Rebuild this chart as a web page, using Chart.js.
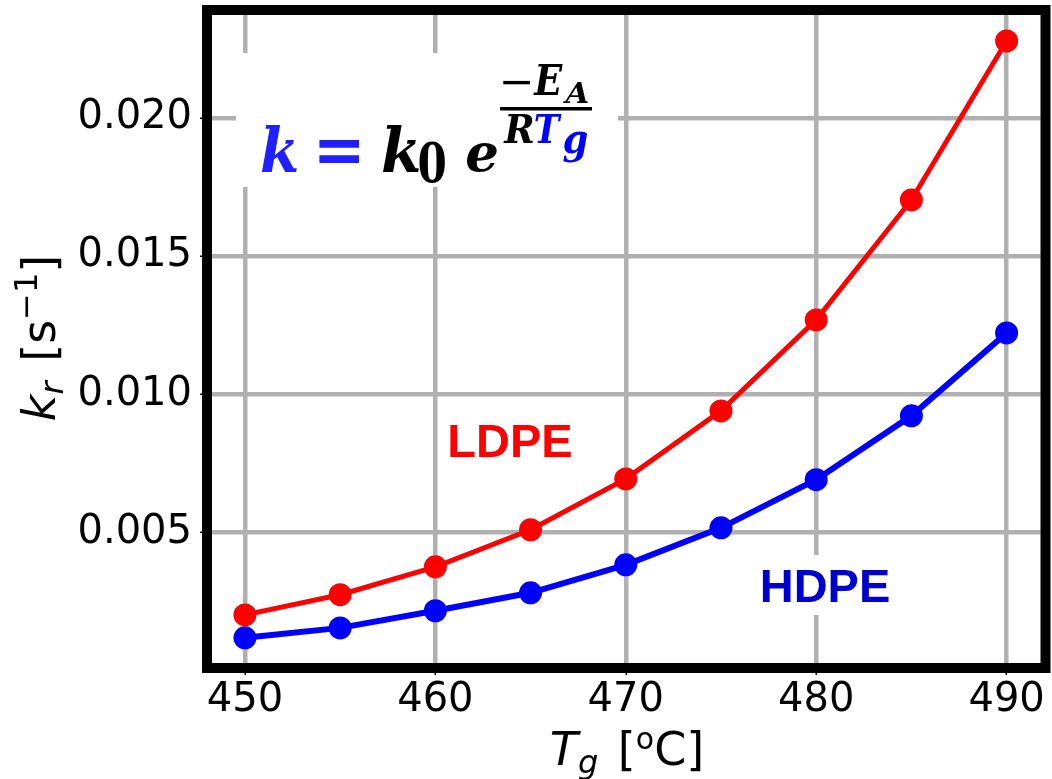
<!DOCTYPE html>
<html>
<head>
<meta charset="utf-8">
<script src="https://cdn.jsdelivr.net/npm/chart.js@4"></script>
<style>
  html, body { margin: 0; padding: 0; background: #fff; }
  #wrap { width: 1052px; height: 779px; }
</style>
</head>
<body>
<div id="wrap"><canvas id="kChart" width="1052" height="779"></canvas></div>
<script>
/* Data */
const temperatures = [450, 455, 460, 465, 470, 475, 480, 485, 490];
const ldpeRates = [0.00202, 0.00275, 0.00376, 0.00510, 0.00694, 0.00940, 0.01269, 0.01703, 0.02278];
const hdpeRates = [0.00119, 0.00155, 0.00217, 0.00282, 0.00383, 0.00517, 0.00691, 0.00922, 0.01222];
const xTicks = [450, 460, 470, 480, 490];
const yTicks = [0.005, 0.010, 0.015, 0.020];

/* colours */
const RED = "#ff0000";
const BLUE = "#0000ff";
const GRID = "#b0b0b0";

const SANS = "'DejaVu Sans', sans-serif";
const SERIF = "'DejaVu Serif', serif";

/* draw a list of text pieces one after another, centred on x */
function drawRuns(ctx, runs, x, y) {
  let total = 0;
  runs.forEach(r => { ctx.font = r.font; total += ctx.measureText(r.t).width + (r.gap || 0); });
  let cx = x - total / 2;
  ctx.textAlign = 'left';
  ctx.textBaseline = 'alphabetic';
  runs.forEach(r => {
    ctx.font = r.font;
    ctx.fillStyle = r.color || '#000';
    ctx.fillText(r.t, cx, y + (r.dy || 0));
    cx += ctx.measureText(r.t).width + (r.gap || 0);
  });
}

/* one glyph stretched so its ink fills the box x0..x1, top..bottom */
function glyph(ctx, t, font, color, x0, x1, top, bottom) {
  ctx.save();
  ctx.font = font;
  ctx.fillStyle = color;
  ctx.textAlign = 'left';
  ctx.textBaseline = 'alphabetic';
  const m = ctx.measureText(t);
  const w = m.actualBoundingBoxLeft + m.actualBoundingBoxRight;
  const h = m.actualBoundingBoxAscent + m.actualBoundingBoxDescent;
  const sx = (x1 - x0) / w, sy = (bottom - top) / h;
  ctx.translate(x0 + m.actualBoundingBoxLeft * sx, top + m.actualBoundingBoxAscent * sy);
  ctx.scale(sx, sy);
  ctx.fillText(t, 0, 0);
  ctx.restore();
}

/* labels, formula and axis titles */
const annotationPlugin = {
  id: 'annotations',
  beforeDatasetsDraw(chart) {
    const ctx = chart.ctx;
    ctx.save();
    // white boxes behind the texts (they cut the grid)
    ctx.fillStyle = '#fff';
    ctx.fillRect(236, 53, 382, 134);
    ctx.fillRect(750, 555, 150, 60);

    // formula  k = k0 e^(-E_A / R T_g)
    const bi = `italic bold 60px ${SERIF}`;
    const b = `bold 60px ${SERIF}`;
    const KB = '#2020ff';
    glyph(ctx, 'k', bi, KB, 262, 297, 125, 172);
    glyph(ctx, '=', b, KB, 319, 359, 140, 163);
    glyph(ctx, 'k', bi, '#000', 383, 419, 125, 172);
    glyph(ctx, '0', b, '#000', 419, 445, 141, 183);
    glyph(ctx, 'e', bi, '#000', 467, 497, 143, 172);
    // numerator
    glyph(ctx, '\u2212', b, '#000', 503, 530, 80, 84);
    glyph(ctx, 'E', bi, '#000', 533, 563, 63, 95);
    glyph(ctx, 'A', bi, '#000', 563, 588, 82, 103);
    // fraction bar
    ctx.fillStyle = '#000';
    ctx.fillRect(500, 107, 92, 3.5);
    // denominator
    glyph(ctx, 'R', bi, '#000', 503, 533, 115, 143);
    glyph(ctx, 'T', bi, BLUE, 535, 562, 115, 143);
    glyph(ctx, 'g', bi, BLUE, 563, 587, 130, 162);

    // series labels
    ctx.textAlign = 'center';
    ctx.textBaseline = 'alphabetic';
    ctx.font = `bold 47px 'Liberation Sans', Arial, sans-serif`;
    ctx.fillStyle = RED;
    ctx.fillText('LDPE', 510, 457);
    ctx.fillStyle = '#0000cc';
    ctx.fillText('HDPE', 825, 602);
    ctx.restore();
  },
  afterDraw(chart) {
    const ctx = chart.ctx;
    const a = chart.chartArea;
    ctx.save();
    // thick black frame
    ctx.strokeStyle = '#000';
    ctx.lineWidth = 10;
    ctx.strokeRect(a.left - 5, a.top - 5, a.right - a.left + 10, a.bottom - a.top + 10);

    // x axis title  T_g [°C]
    drawRuns(ctx, [
      { t: 'T', font: `italic 46px ${SANS}` },
      { t: 'g', font: `italic 32px ${SANS}`, dy: 8, gap: 5 },
      { t: ' [', font: `46px ${SANS}` },
      { t: 'o', font: `30px ${SANS}`, dy: -16 },
      { t: 'C]', font: `46px ${SANS}` }
    ], 627, 765);

    // y axis title  k_r [s^-1]
    ctx.translate(40, 338);
    ctx.rotate(-Math.PI / 2);
    drawRuns(ctx, [
      { t: 'k', font: `italic 46px ${SANS}` },
      { t: 'r', font: `italic 32px ${SANS}`, dy: 8, gap: 5 },
      { t: ' [s', font: `46px ${SANS}` },
      { t: '\u22121', font: `32px ${SANS}`, dy: -18 },
      { t: ']', font: `46px ${SANS}` }
    ], 0, 15);
    ctx.restore();
  }
};

function series(values) {
  return temperatures.map((t, i) => ({ x: t, y: values[i] }));
}

const ctx = document.getElementById('kChart').getContext('2d');
new Chart(ctx, {
  type: 'line',
  data: {
    datasets: [
      {
        label: 'LDPE',
        data: series(ldpeRates),
        borderColor: RED,
        backgroundColor: RED,
        borderWidth: 5,
        pointRadius: 11.5,
        pointBorderWidth: 0,
        pointBackgroundColor: RED,
        tension: 0
      },
      {
        label: 'HDPE',
        data: series(hdpeRates),
        borderColor: BLUE,
        backgroundColor: BLUE,
        borderWidth: 6,
        pointRadius: 11.5,
        pointBorderWidth: 0,
        pointBackgroundColor: BLUE,
        tension: 0
      }
    ]
  },
  options: {
    responsive: false,
    animation: false,
    devicePixelRatio: 1,
    layout: { padding: { left: 0, top: 15, right: 9, bottom: 0 } },
    plugins: { legend: { display: false }, tooltip: { enabled: false } },
    scales: {
      x: {
        type: 'linear',
        min: 448.27,
        max: 491.78,
        afterBuildTicks(scale) { scale.ticks = xTicks.map(v => ({ value: v })); },
        afterFit(scale) {
          scale.height = 116;
          scale.paddingLeft = 0; scale.paddingRight = 0;
        },
        border: { display: false },
        grid: { color: GRID, lineWidth: 4.5, tickColor: '#000', tickLength: 12, tickWidth: 1.5 },
        ticks: {
          font: { family: SANS, size: 40 },
          color: '#000',
          padding: 2,
          maxRotation: 0,
          callback: v => String(v)
        }
      },
      y: {
        type: 'linear',
        min: 0.00028,
        max: 0.02372,
        afterBuildTicks(scale) { scale.ticks = yTicks.map(v => ({ value: v })); },
        afterFit(scale) {
          scale.width = 212;
          scale.paddingTop = 0; scale.paddingBottom = 0;
        },
        border: { display: false },
        grid: { color: GRID, lineWidth: 4.5, tickColor: '#000', tickLength: 12, tickWidth: 1.5 },
        ticks: {
          font: { family: SANS, size: 40 },
          color: '#000',
          padding: 8,
          callback: v => v.toFixed(3)
        }
      }
    }
  },
  plugins: [annotationPlugin]
});
</script>
</body>
</html>
